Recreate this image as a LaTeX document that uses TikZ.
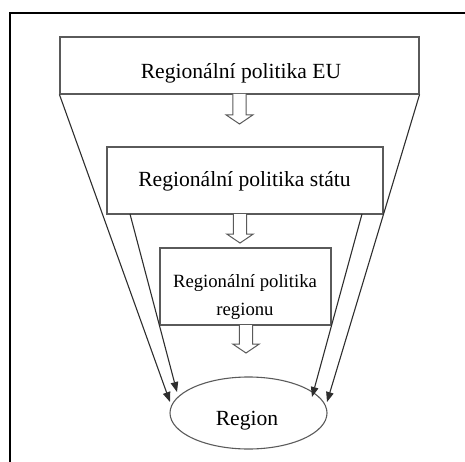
\documentclass[tikz,border=0pt]{standalone}
\usepackage{fontspec}
\setmainfont{Liberation Serif}
\usetikzlibrary{arrows.meta,shapes.geometric}
\definecolor{boxgray}{HTML}{5A5A5A}
\definecolor{conngray}{HTML}{2E2E2E}
\begin{document}
\begin{tikzpicture}[x=1pt,y=-1pt,
  boxst/.style={draw=boxgray, line width=1.1pt, inner sep=0pt},
  txt/.style={anchor=base, inner sep=0pt, font=\fontsize{21.6}{26}\selectfont},
  smalltxt/.style={anchor=base, inner sep=0pt, font=\fontsize{18.7}{28}\selectfont},
  conn/.style={draw=conngray, line width=1.1pt, -{Triangle[length=10pt,width=7.5pt]}},
  hollowst/.style={draw=boxgray, line width=1pt, fill=white, line join=miter}]
\useasboundingbox (0,0) rectangle (465,462);
\draw[line width=2pt] (10,463) -- (10,13) -- (466,13);
% boxes
\node[boxst, minimum width=359pt, minimum height=57pt] (b1) at (239.5,65.5) {};
\node[boxst, minimum width=276pt, minimum height=67pt] (b2) at (245,180.5) {};
\node[boxst, minimum width=171pt, minimum height=77pt] (b3) at (245.5,286.5) {};
\node[draw=boxgray, line width=1.1pt, ellipse, minimum width=157pt, minimum height=72pt, inner sep=0pt] (reg) at (248.5,413) {};
% texts
\node[txt] (t1) at (241,78.5) {Regionální politika EU};
\node[txt] (t2) at (244.5,186.5) {Regionální politika státu};
\node[smalltxt] (t3a) at (245,287.5) {Regionální politika};
\node[smalltxt] (t3b) at (245,315.5) {regionu};
\node[txt] (t4) at (247,425) {Region};
% hollow arrows
\draw[hollowst, shift={(239.5,94)}] (-6.7,0) -- (-6.7,21) -- (-13.3,21) -- (0,30) -- (13.3,21) -- (6.7,21) -- (6.7,0);
\draw[hollowst, shift={(240,214)}] (-6.7,0) -- (-6.7,20) -- (-13.3,20) -- (0,29) -- (13.3,20) -- (6.7,20) -- (6.7,0);
\draw[hollowst, shift={(246,325)}] (-6.7,0) -- (-6.7,19) -- (-13.3,19) -- (0,28) -- (13.3,19) -- (6.7,19) -- (6.7,0);
% connectors
\coordinate (s2l) at (130,214);
\coordinate (s2r) at (362,214);
\coordinate (e1) at (170,402);
\coordinate (e2) at (177,392);
\coordinate (e3) at (312,397);
\coordinate (e4) at (327,402);
\draw[conn] (b1.south west) -- (e1);
\draw[conn] (s2l) -- (e2);
\draw[conn] (s2r) -- (e3);
\draw[conn] (b1.south east) -- (e4);
\end{tikzpicture}
\end{document}
